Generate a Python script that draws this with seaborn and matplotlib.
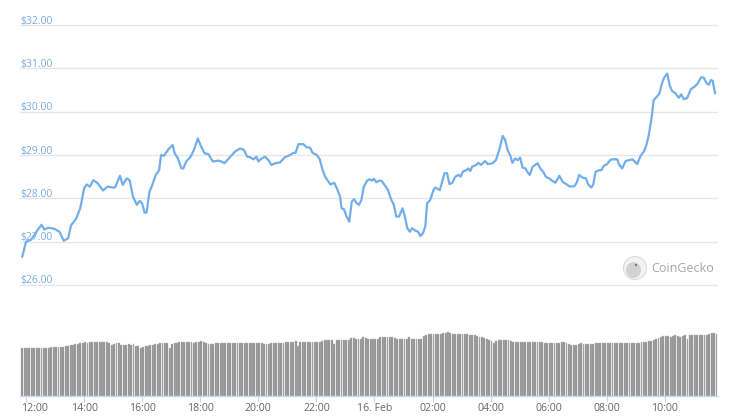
import matplotlib
matplotlib.use("Agg")
import matplotlib.pyplot as plt
import matplotlib.transforms as mtransforms
from matplotlib.patches import Circle, Ellipse
import numpy as np
import pandas as pd
import seaborn as sns

# ---------------- data ----------------
# price: minutes after 15 Feb 12:00, USD
price_t = [-8, 0, 10, 17, 24, 32, 38, 45, 58, 69, 78, 87, 93, 103, 112, 120, 125, 132, 139, 148,
           159, 168, 179, 184, 194, 200, 208, 214, 221, 229, 235, 240, 245, 249, 255, 261, 268, 275,
           279, 285, 294, 303, 307, 314, 321, 325, 331, 340, 347, 355, 362, 369, 377, 386, 398, 404,
           410, 419, 432, 439, 443, 450, 457, 463, 470, 476, 480, 487, 494, 501, 507, 515, 525, 535,
           546, 552, 557, 563, 573, 580, 587, 592, 601, 607, 613, 618, 623, 629, 637, 643, 649, 652,
           657, 662, 668, 673, 678, 683, 688, 693, 698, 705, 710, 715, 719, 724, 730, 735, 741, 748,
           755, 760, 765, 771, 778, 782, 788, 793, 798, 805, 810, 815, 820, 825, 829, 835, 842, 846,
           855, 865, 870, 875, 881, 887, 894, 898, 903, 910, 914, 918, 922, 930, 935, 940, 949, 954,
           964, 971, 978, 985, 990, 995, 1001, 1005, 1011, 1016, 1021, 1026, 1032, 1036, 1041, 1047,
           1057, 1064, 1069, 1074, 1081, 1088, 1094, 1102, 1109, 1116, 1124, 1133, 1138, 1143, 1150,
           1157, 1162, 1168, 1172, 1177, 1184, 1189, 1194, 1201, 1207, 1211, 1222, 1225, 1232, 1239,
           1246, 1253, 1258, 1263, 1270, 1277, 1282, 1287, 1293, 1297, 1304, 1309, 1314, 1319, 1325,
           1330, 1335, 1342, 1349, 1354, 1359, 1366, 1374, 1383, 1388, 1395, 1400, 1407, 1411, 1415,
           1419, 1424]
price_usd = [26.65, 27.00, 27.04, 27.15, 27.27, 27.39, 27.28, 27.32, 27.30, 27.23, 27.02, 27.08, 27.38,
             27.52, 27.77, 28.23, 28.32, 28.27, 28.42, 28.35, 28.18, 28.27, 28.25, 28.25, 28.52, 28.31,
             28.46, 28.42, 28.04, 27.85, 27.94, 27.88, 27.67, 27.67, 28.15, 28.31, 28.54, 28.65, 29.00,
             28.98, 29.13, 29.23, 29.04, 28.92, 28.69, 28.69, 28.85, 28.96, 29.12, 29.38, 29.19, 29.04,
             29.02, 28.85, 28.87, 28.85, 28.81, 28.92, 29.08, 29.13, 29.15, 29.12, 28.96, 28.95, 28.90,
             28.96, 28.85, 28.92, 28.96, 28.88, 28.77, 28.81, 28.83, 28.95, 29.00, 29.05, 29.05, 29.25,
             29.25, 29.18, 29.17, 29.05, 29.00, 28.90, 28.65, 28.50, 28.42, 28.32, 28.36, 28.21, 28.04,
             27.77, 27.75, 27.59, 27.46, 27.92, 27.98, 27.89, 27.85, 27.96, 28.27, 28.41, 28.44, 28.41,
             28.45, 28.37, 28.41, 28.40, 28.31, 28.19, 27.96, 27.85, 27.58, 27.58, 27.77, 27.62, 27.31,
             27.23, 27.31, 27.25, 27.23, 27.13, 27.19, 27.35, 27.89, 27.96, 28.19, 28.25, 28.19, 28.58,
             28.58, 28.33, 28.36, 28.50, 28.54, 28.50, 28.62, 28.65, 28.69, 28.63, 28.73, 28.77, 28.82,
             28.77, 28.86, 28.79, 28.81, 28.88, 29.12, 29.44, 29.35, 29.12, 28.98, 28.82, 28.92, 28.88,
             28.94, 28.71, 28.69, 28.61, 28.54, 28.73, 28.81, 28.67, 28.61, 28.50, 28.46, 28.40, 28.36,
             28.52, 28.38, 28.33, 28.27, 28.28, 28.36, 28.54, 28.48, 28.46, 28.32, 28.25, 28.31, 28.61,
             28.65, 28.65, 28.75, 28.79, 28.88, 28.90, 28.90, 28.79, 28.69, 28.86, 28.88, 28.90, 28.85,
             28.79, 28.98, 29.08, 29.23, 29.46, 29.88, 30.27, 30.35, 30.42, 30.65, 30.79, 30.88, 30.61,
             30.48, 30.42, 30.32, 30.40, 30.29, 30.31, 30.52, 30.59, 30.65, 30.79, 30.79, 30.65, 30.62,
             30.73, 30.71, 30.42]

# 24h volume (billion USD), one bar per 5 minutes, 12 bars per hour
volume_bn = [
    2.97, 2.97, 2.97, 3.00, 2.98, 3.00, 2.99, 3.00, 3.00, 3.00, 3.00, 2.99,
    3.03, 3.05, 3.04, 3.05, 3.05, 3.06, 3.08, 3.12, 3.16, 3.19, 3.22, 3.26,
    3.28, 3.31, 3.33, 3.32, 3.34, 3.35, 3.34, 3.35, 3.35, 3.35, 3.35, 3.36,
    3.30, 3.20, 3.24, 3.30, 3.28, 3.18, 3.16, 3.17, 3.22, 3.20, 3.22, 3.14,
    3.10, 3.01, 3.04, 3.11, 3.12, 3.18, 3.20, 3.22, 3.25, 3.27, 3.27, 3.28,
    3.30, 2.99, 3.22, 3.27, 3.30, 3.33, 3.34, 3.33, 3.33, 3.33, 3.33, 3.28,
    3.39, 3.39, 3.40, 3.39, 3.28, 3.26, 3.24, 3.25, 3.27, 3.28, 3.28, 3.29,
    3.30, 3.29, 3.28, 3.28, 3.29, 3.30, 3.28, 3.27, 3.27, 3.27, 3.27, 3.27,
    3.27, 3.27, 3.27, 3.27, 3.24, 3.24, 3.26, 3.27, 3.27, 3.27, 3.27, 3.28,
    3.30, 3.33, 3.33, 3.33, 3.33, 3.43, 3.10, 3.35, 3.36, 3.38, 3.39, 3.39,
    3.39, 3.39, 3.39, 3.39, 3.45, 3.49, 3.49, 3.49, 3.49, 3.22, 3.47, 3.47,
    3.47, 3.47, 3.47, 3.47, 3.60, 3.60, 3.54, 3.54, 3.54, 3.65, 3.62, 3.58,
    3.58, 3.58, 3.52, 3.53, 3.65, 3.65, 3.65, 3.65, 3.65, 3.65, 3.60, 3.54,
    3.54, 3.54, 3.54, 3.54, 3.65, 3.54, 3.54, 3.54, 3.54, 3.54, 3.73, 3.78,
    3.87, 3.87, 3.88, 3.88, 3.88, 3.88, 3.90, 3.93, 3.96, 3.92, 3.88, 3.85,
    3.85, 3.85, 3.85, 3.85, 3.85, 3.83, 3.79, 3.79, 3.74, 3.68, 3.68, 3.62,
    3.56, 3.50, 3.44, 3.30, 3.43, 3.46, 3.47, 3.47, 3.47, 3.47, 3.45, 3.39,
    3.39, 3.39, 3.39, 3.39, 3.39, 3.39, 3.39, 3.39, 3.39, 3.36, 3.35, 3.35,
    3.30, 3.30, 3.30, 3.30, 3.30, 3.30, 3.30, 3.33, 3.35, 3.28, 3.22, 3.20,
    3.20, 3.20, 3.24, 3.30, 3.24, 3.24, 3.24, 3.24, 3.24, 3.28, 3.30, 3.27,
    3.27, 3.27, 3.27, 3.27, 3.27, 3.27, 3.27, 3.27, 3.27, 3.27, 3.27, 3.27,
    3.27, 3.27, 3.27, 3.30, 3.33, 3.35, 3.37, 3.40, 3.43, 3.47, 3.52, 3.60,
    3.68, 3.72, 3.75, 3.72, 3.68, 3.72, 3.79, 3.74, 3.68, 3.76, 3.83, 3.54,
    3.83, 3.83, 3.83, 3.83, 3.83, 3.83, 3.83, 3.83, 3.84, 3.90, 3.90, 3.87,
]
vol_first_min = -8
vol_step_min = 5
vol_t = [vol_first_min + vol_step_min * i for i in range(len(volume_bn))]

y_ticks = [26, 27, 28, 29, 30, 31, 32]
y_tick_labels = ["$26.00", "$27.00", "$28.00", "$29.00", "$30.00", "$31.00", "$32.00"]
x_ticks = [0, 120, 240, 360, 480, 600, 720, 840, 960, 1080, 1200, 1320]
x_tick_labels = ["12:00", "14:00", "16:00", "18:00", "20:00", "22:00", "16. Feb",
                 "02:00", "04:00", "06:00", "08:00", "10:00"]

price_df = pd.DataFrame({"t": price_t, "price": price_usd})
vol_df = pd.DataFrame({"t": vol_t, "volume": volume_bn})

# ---------------- style ----------------
sns.set_theme(style="white")
plt.rcParams["font.family"] = ["Open Sans", "DejaVu Sans"]

W, H = 729, 419
fig = plt.figure(figsize=(W / 100, H / 100), dpi=100)
fig.patch.set_facecolor("white")


def axpos(l, t, r, b):
    return [l / W, 1 - b / H, (r - l) / W, (b - t) / H]


XLIM = (-12.5, 1430)
PX_PER_USD = 43.33

ax = fig.add_axes(axpos(20, 20, 718, 290))
axv = fig.add_axes(axpos(20, 300, 718, 395.5))

# ---------------- price ----------------
for v in y_ticks:
    ax.axhline(v, color="#e6e6e6", lw=1.0, zorder=0)
sns.lineplot(data=price_df, x="t", y="price", ax=ax, color="#72aee9", lw=1.6, zorder=3)
ax.set_xlim(*XLIM)
ax.set_ylim(26 - 5 / PX_PER_USD, 32 + 5 / PX_PER_USD)
ax.set_xticks([])
ax.set_yticks([])
ax.set_xlabel("")
ax.set_ylabel("")
for s in ax.spines.values():
    s.set_visible(False)
ax.patch.set_alpha(0)

ylab_tr = mtransforms.offset_copy(
    mtransforms.blended_transform_factory(ax.transAxes, ax.transData), fig=fig, x=0.5, y=1.5, units="dots")
for v, lab in zip(y_ticks, y_tick_labels):
    ax.text(0, v, lab, transform=ylab_tr, ha="left", va="baseline", fontsize=7.5,
            color="#7aabe5", zorder=1)

# ---------------- volume ----------------
sns.barplot(data=vol_df, x="t", y="volume", native_scale=True, errorbar=None, ax=axv,
            color="#8c8c8c", saturation=1, width=0.78, edgecolor="#bdbdbd", linewidth=0.3)
axv.set_xlim(*XLIM)
axv.set_ylim(0, 6.0)
axv.set_yticks([])
axv.set_xlabel("")
axv.set_ylabel("")
for k, s in axv.spines.items():
    s.set_visible(k == "bottom")
axv.spines["bottom"].set_color("#ccd6eb")
axv.spines["bottom"].set_linewidth(1.0)
axv.set_xticks(x_ticks)
axv.set_xticklabels([])
axv.tick_params(axis="x", bottom=True, length=4.5, width=0.8, color="#ccd6eb", direction="out")
axv.patch.set_alpha(0)

xlab_tr = mtransforms.offset_copy(
    mtransforms.blended_transform_factory(axv.transData, axv.transAxes), fig=fig, x=0, y=-7, units="dots")
for i, (t, lab) in enumerate(zip(x_ticks, x_tick_labels)):
    if i == 0:
        tr = mtransforms.offset_copy(
            mtransforms.blended_transform_factory(axv.transAxes, axv.transAxes), fig=fig, x=1, y=-7, units="dots")
        axv.text(0, 0, lab, transform=tr, ha="left", va="top", fontsize=7.6, color="#666666")
    else:
        axv.text(t, 0, lab, transform=xlab_tr, ha="center", va="top", fontsize=7.6, color="#666666")

# ---------------- watermark ----------------
idt = mtransforms.IdentityTransform()
cx, cy = 635, H - 268
fig.add_artist(Circle((cx, cy), 11.5, transform=idt, facecolor="#f3f3f3", edgecolor="#dadada", lw=0.8))
fig.add_artist(Ellipse((cx - 1.5, cy - 2), 15, 16, transform=idt, facecolor="#d2d2d2", edgecolor="none"))
fig.add_artist(Circle((cx + 1, cy + 3), 1.2, transform=idt, facecolor="#777777", edgecolor="none"))
fig.text(651 / W, 1 - 268 / H, "CoinGecko", ha="left", va="center", fontsize=9, color="#a6a6a6",
         family=["Open Sans", "DejaVu Sans"])

fig.savefig("out.png", dpi=100, facecolor="white")
